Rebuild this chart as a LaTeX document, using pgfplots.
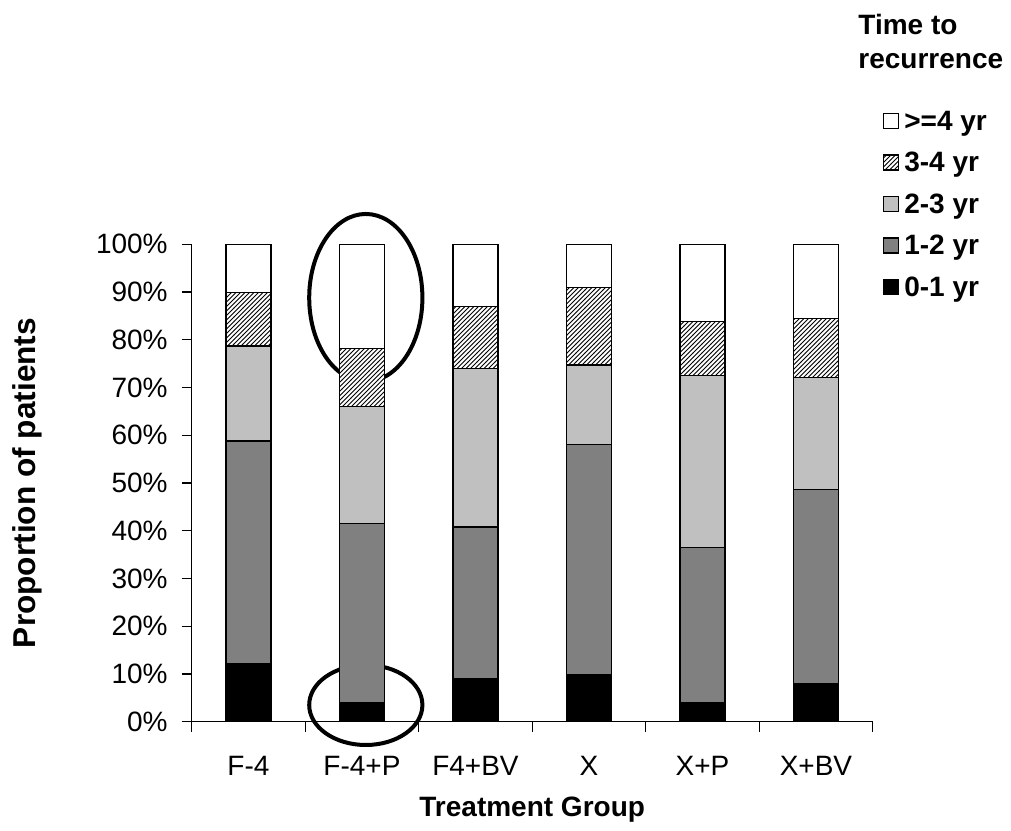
\documentclass[border=0pt]{standalone}
\usepackage{fontspec}
\setmainfont{Liberation Sans}
\usepackage{pgfplots}
\pgfplotsset{compat=1.18}
\usetikzlibrary{patterns}
\pgfdeclarepatternformonly{denseNE}{\pgfqpoint{-1pt}{-1pt}}{\pgfqpoint{3.25pt}{3.25pt}}{\pgfqpoint{2.25pt}{2.25pt}}{\pgfsetlinewidth{0.5pt}\pgfpathmoveto{\pgfqpoint{0pt}{0pt}}\pgfpathlineto{\pgfqpoint{2.35pt}{2.35pt}}\pgfusepath{stroke}}
\definecolor{dgray}{HTML}{808080}
\definecolor{lgray}{HTML}{C0C0C0}
\begin{document}
\begin{tikzpicture}[font=\fontsize{14}{16.8}\selectfont]
\useasboundingbox (-95.85pt,-54.15pt) rectangle (409.65pt,360.85pt);
\begin{axis}[
  at={(0pt,0pt)}, anchor=south west,
  x=56.75pt, y=2.387pt,
  xmin=-0.5, xmax=5.5, ymin=0, ymax=100,
  enlargelimits=false,
  clip=false,
  axis x line=bottom, axis y line=left,
  axis line style={-, line width=0.6pt},
  tick align=outside,
  major tick length=5pt,
  tick style={line width=0.6pt, black},
  xtick={-0.5,0.5,1.5,2.5,3.5,4.5,5.5},
  xticklabels={F-4,F-4+P,F4+BV,X,X+P,X+BV,{}},
  x tick label style={xshift=28.375pt, yshift=-8.5pt},
  y tick label style={xshift=-3.5pt},
  ytick={0,10,20,30,40,50,60,70,80,90,100},
  yticklabels={0\%,10\%,20\%,30\%,40\%,50\%,60\%,70\%,80\%,90\%,100\%},
  xlabel={Treatment Group},
  ylabel={Proportion of patients},
  xlabel style={font=\fontsize{14}{16.8}\selectfont\bfseries, at={(axis description cs:0.5,-0.185)}, anchor=center},
  ylabel style={font=\fontsize{15.8}{19}\selectfont\bfseries, at={(axis description cs:-0.2418,0.5)}, anchor=center, rotate=0},
  ybar stacked,
  bar width=22.5pt,
  every axis plot/.append style={draw=black, line width=0.6pt},
  reverse legend,
  legend image code/.code={\draw[#1, line width=0.6pt] (0pt,1pt) rectangle (7.5pt,8.5pt);},
  legend cell align=left,
  legend style={draw=none, fill=none, font=\fontsize{14}{16.8}\selectfont\bfseries,
    at={(axis description cs:1.0147,1.2833)}, anchor=north west,
    inner sep=0pt, row sep=7.25pt, column sep=2.5pt,
    nodes={inner sep=0pt, text height=10.5pt, text depth=3pt, anchor=base west}},
]
\addplot[fill=black] coordinates {(0,12.2) (1,4.1) (2,9.1) (3,9.9) (4,4.0) (5,7.9)};
\addlegendentry{0-1 yr}
\addplot[fill=dgray] coordinates {(0,46.6) (1,37.4) (2,31.7) (3,48.1) (4,32.5) (5,40.8)};
\addlegendentry{1-2 yr}
\addplot[fill=lgray] coordinates {(0,19.9) (1,24.6) (2,33.2) (3,16.7) (4,36.0) (5,23.4)};
\addlegendentry{2-3 yr}
\addplot[fill=white, postaction={pattern=denseNE}] coordinates {(0,11.2) (1,12.0) (2,13.0) (3,16.3) (4,11.4) (5,12.3)};
\addlegendentry{3-4 yr}
\addplot[fill=white] coordinates {(0,10.1) (1,21.9) (2,13.0) (3,9.0) (4,16.1) (5,15.6)};
\addlegendentry{>=4 yr}
\draw[line width=2pt] (axis cs:1.034,88.8) ellipse [x radius=28.3pt, y radius=41.9pt];
\draw[line width=2pt] (axis cs:1.034,3.5) ellipse [x radius=28.3pt, y radius=20pt];
\node[font=\fontsize{14}{17}\selectfont\bfseries, align=left, anchor=base west, inner sep=0pt] at (333.15pt,326.7pt) {Time to\\recurrence};
\end{axis}
\end{tikzpicture}
\end{document}
